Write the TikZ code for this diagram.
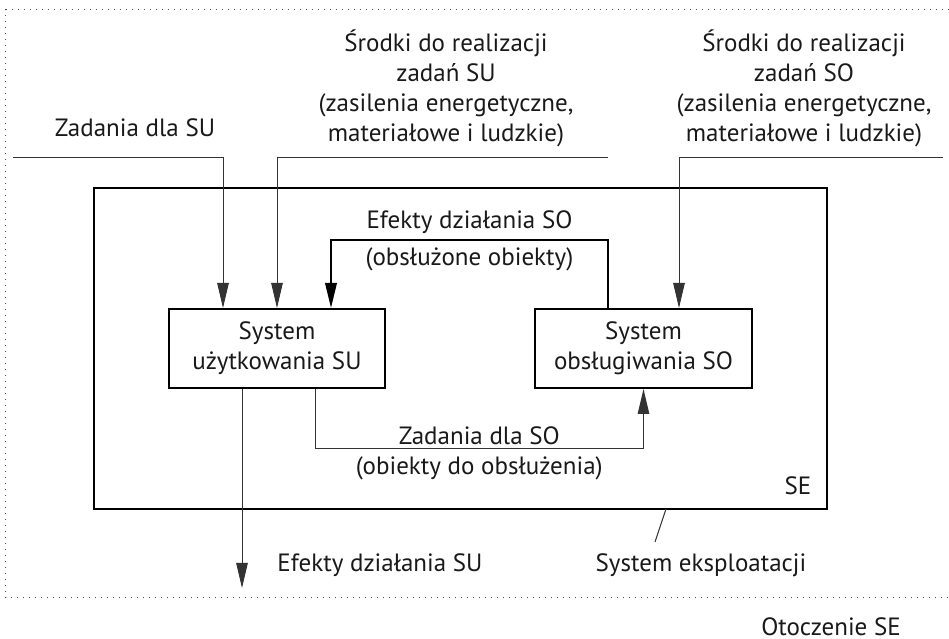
\documentclass[tikz,border=0pt]{standalone}
\usepackage{fontspec}
\setmainfont{PT Sans}
\usetikzlibrary{positioning, calc, arrows.meta}

\begin{document}
\begin{tikzpicture}[x=0.4pt, y=-0.4pt,
        every node/.style = {font=\fontsize{10}{12}\selectfont, text=black!90},
        % styles
        block/.style = {
                rectangle, draw=black, line width=0.8pt,
                minimum width=86.4pt, minimum height=31.6pt,
                align=center, inner sep=2pt
            },
        sebox/.style = {
                rectangle, draw=black, line width=0.8pt,
                minimum width=293.2pt, minimum height=128.4pt
            },
        txt/.style = {
                align=center, inner sep=0pt
            },
        thinline/.style = {
                line width=0.4pt, draw=black!80
            },
        inarrow/.style = {
                thinline, -{Triangle[length=10pt,width=4.6pt]}
            },
        arrow/.style = {
                line width=0.8pt, -{Triangle[length=10pt,width=4.6pt]}
            }]

    \useasboundingbox (0,0) rectangle (949,639);

    % surroundings
    \draw [thinline, dotted, draw=black!70] (949,10) -- (6,10) -- (6,598) -- (949,598);
    \node (otoczenie) [txt] at (831,627) {Otoczenie SE};

    % exploitation system
    \node (se) [sebox] at (460.5,348.5) {};
    \node (se_name) [txt] at (798,486) {SE};
    \node (su) [block] at (277,348.5) {System\\użytkowania SU};
    \node (so) [block] at (643.5,348.5) {System\\obsługiwania SO};

    % inputs
    \node (zad_su) [txt] at (135,128) {Zadania dla SU};
    \node (sr_su) [txt] at (446,88) {Środki do realizacji\\zadań SU\\(zasilenia energetyczne,\\materiałowe i ludzkie)};
    \node (sr_so) [txt] at (804,88) {Środki do realizacji\\zadań SO\\(zasilenia energetyczne,\\materiałowe i ludzkie)};
    \coordinate (zad_su_in) at (13,158);
    \coordinate (sr_su_in) at (608,158);
    \coordinate (sr_so_in) at (943,158);

    % outputs
    \coordinate (ef_su_out) at (242,588);
    \node (ef_su) [txt] at (380,565) {Efekty działania SU};
    \node (sys_eks) [txt] at (701,565) {System eksploatacji};
    \coordinate (se_mark) at (666,509);
    \coordinate (sys_eks_mark) at (655,542);

    % arrows
    \draw [inarrow] (zad_su_in) -| ($(su.north)+(-54,0)$);
    \draw [inarrow] (sr_su_in) -| (su.north);
    \draw [inarrow] (sr_so_in) -| ($(so.north)+(35.5,0)$);
    \draw [arrow] ($(so.north)+(-35.5,0)$) -- ++(0,-68)
        -| node[txt, pos=0.25, above=2pt] {Efekty działania SO}
           node[txt, pos=0.25, below=2.5pt] {(obsłużone obiekty)} ($(su.north)+(54,0)$);
    \draw [inarrow] ($(su.south)+(38,0)$) -- ++(0,60)
        -| node[txt, pos=0.25, above=1.5pt] {Zadania dla SO}
           node[txt, pos=0.25, below=3pt] {(obiekty do obsłużenia)} (so.south);
    \draw [inarrow] ($(su.south)+(-35,0)$) -- (ef_su_out);
    \draw [thinline] (se_mark) -- (sys_eks_mark);

\end{tikzpicture}
\end{document}
